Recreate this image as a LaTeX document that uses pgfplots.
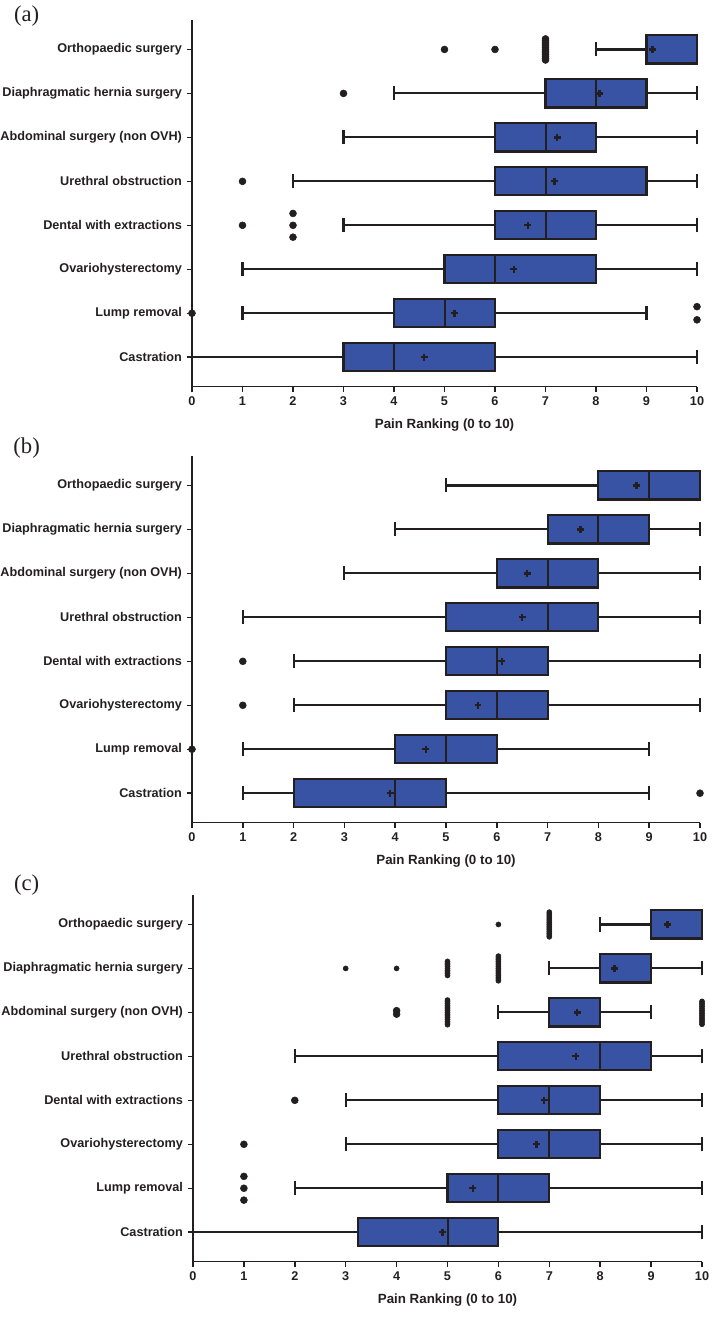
\documentclass[border=0pt]{standalone}
\usepackage{pgfplots}
\pgfplotsset{compat=1.18}
\usepgfplotslibrary{statistics}
\usepackage{fontspec}
\setmainfont{Liberation Sans}
\newfontfamily\panelfont{Liberation Serif}
\definecolor{boxblue}{HTML}{3853A4}
\definecolor{ink}{HTML}{231F20}

\pgfplotsset{
  painbase/.style={
    scale only axis, width=378.75pt, height=275pt,
    xmin=0, xmax=10, ymin=0.33, ymax=8.67,
    axis lines*=left, axis line style={ink, line width=1.1pt},
    xtick={0,...,10}, ytick={1,...,8},
    yticklabels={Castration, Lump removal, Ovariohysterectomy,
      Dental with extractions, Urethral obstruction,
      Abdominal surgery (non OVH), Diaphragmatic hernia surgery,
      Orthopaedic surgery},
    tick align=outside, major tick length=4pt,
    tick style={ink, line width=1.1pt},
    tick label style={font=\bfseries\fontsize{9.5}{11}\selectfont, text=ink},
    /pgf/number format/assume math mode=true,
    xlabel={Pain Ranking (0 to 10)},
    xlabel style={font=\bfseries\fontsize{10}{12}\selectfont, text=ink, yshift=-3pt},
    clip=false,
    boxplot/draw direction=x,
    boxplot/box extend=0.64,
    boxplot/whisker extend=0.32,
    boxplot/every box/.style={fill=boxblue, line width=1.6pt},
    boxplot/every whisker/.style={line width=1.6pt},
    boxplot/every median/.style={line width=1.5pt},
  },
  bx/.style={ink, line width=1.6pt, mark=none, solid},
  mn/.style={only marks, mark=+, mark size=2.6pt, ink, line width=1.7pt},
  big/.style={only marks, mark=*, mark size=2.6pt, ink, fill=ink},
  small/.style={only marks, mark=*, mark size=1.9pt, ink, fill=ink},
}

\begin{document}
\begin{tikzpicture}
\path[use as bounding box] (0,0) rectangle (534pt,-987.75pt);

% ---------------- (a)
\node[font=\panelfont\fontsize{17}{17}\selectfont, text=ink] at (20pt,-12pt) {(a)};
\begin{axis}[painbase, at={(144pt,-15pt)}, anchor=north west]
  \addplot[bx, boxplot prepared={draw position=8, lower whisker=8, lower quartile=9, median=9, upper quartile=10, upper whisker=10}] coordinates {};
  \addplot[bx, boxplot prepared={draw position=7, lower whisker=4, lower quartile=7, median=8, upper quartile=9, upper whisker=10}] coordinates {};
  \addplot[bx, boxplot prepared={draw position=6, lower whisker=3, lower quartile=6, median=7, upper quartile=8, upper whisker=10}] coordinates {};
  \addplot[bx, boxplot prepared={draw position=5, lower whisker=2, lower quartile=6, median=7, upper quartile=9, upper whisker=10}] coordinates {};
  \addplot[bx, boxplot prepared={draw position=4, lower whisker=3, lower quartile=6, median=7, upper quartile=8, upper whisker=10}] coordinates {};
  \addplot[bx, boxplot prepared={draw position=3, lower whisker=1, lower quartile=5, median=6, upper quartile=8, upper whisker=10}] coordinates {};
  \addplot[bx, boxplot prepared={draw position=2, lower whisker=1, lower quartile=4, median=5, upper quartile=6, upper whisker=9}] coordinates {};
  \addplot[bx, boxplot prepared={draw position=1, lower whisker=0, lower quartile=3, median=4, upper quartile=6, upper whisker=10}] coordinates {};
  \addplot[mn] coordinates {(9.12,8) (8.07,7) (7.23,6) (7.18,5) (6.65,4) (6.37,3) (5.2,2) (4.6,1)};
  \addplot[big] coordinates {(5,8) (6,8) (3,7) (1,5) (1,4) (2,3.73) (2,4) (2,4.27) (0,2) (10,1.85) (10,2.15)};
  \addplot[big] coordinates {(7,7.76) (7,7.80) (7,7.84) (7,7.88) (7,7.92) (7,7.96) (7,8) (7,8.04) (7,8.08) (7,8.12) (7,8.16) (7,8.20) (7,8.24)};
\end{axis}

% ---------------- (b)
\node[font=\panelfont\fontsize{17}{17}\selectfont, text=ink] at (20pt,-336pt) {(b)};
\begin{axis}[painbase, at={(144pt,-342pt)}, anchor=north west, width=381pt]
  \addplot[bx, boxplot prepared={draw position=8, lower whisker=5, lower quartile=8, median=9, upper quartile=10, upper whisker=10}] coordinates {};
  \addplot[bx, boxplot prepared={draw position=7, lower whisker=4, lower quartile=7, median=8, upper quartile=9, upper whisker=10}] coordinates {};
  \addplot[bx, boxplot prepared={draw position=6, lower whisker=3, lower quartile=6, median=7, upper quartile=8, upper whisker=10}] coordinates {};
  \addplot[bx, boxplot prepared={draw position=5, lower whisker=1, lower quartile=5, median=7, upper quartile=8, upper whisker=10}] coordinates {};
  \addplot[bx, boxplot prepared={draw position=4, lower whisker=2, lower quartile=5, median=6, upper quartile=7, upper whisker=10}] coordinates {};
  \addplot[bx, boxplot prepared={draw position=3, lower whisker=2, lower quartile=5, median=6, upper quartile=7, upper whisker=10}] coordinates {};
  \addplot[bx, boxplot prepared={draw position=2, lower whisker=1, lower quartile=4, median=5, upper quartile=6, upper whisker=9}] coordinates {};
  \addplot[bx, boxplot prepared={draw position=1, lower whisker=1, lower quartile=2, median=4, upper quartile=5, upper whisker=9}] coordinates {};
  \addplot[mn] coordinates {(8.75,8) (7.65,7) (6.6,6) (6.5,5) (6.1,4) (5.63,3) (4.6,2) (3.9,1)};
  \addplot[big] coordinates {(1,4) (1,3) (0,2) (10,1)};
\end{axis}

% ---------------- (c)
\node[font=\panelfont\fontsize{17}{17}\selectfont, text=ink] at (20pt,-663.75pt) {(c)};
\begin{axis}[painbase, at={(144.75pt,-671.25pt)}, anchor=north west, width=381.75pt]
  \addplot[bx, boxplot prepared={draw position=8, lower whisker=8, lower quartile=9, median=9, upper quartile=10, upper whisker=10}] coordinates {};
  \addplot[bx, boxplot prepared={draw position=7, lower whisker=7, lower quartile=8, median=8, upper quartile=9, upper whisker=10}] coordinates {};
  \addplot[bx, boxplot prepared={draw position=6, lower whisker=6, lower quartile=7, median=7, upper quartile=8, upper whisker=9}] coordinates {};
  \addplot[bx, boxplot prepared={draw position=5, lower whisker=2, lower quartile=6, median=8, upper quartile=9, upper whisker=10}] coordinates {};
  \addplot[bx, boxplot prepared={draw position=4, lower whisker=3, lower quartile=6, median=7, upper quartile=8, upper whisker=10}] coordinates {};
  \addplot[bx, boxplot prepared={draw position=3, lower whisker=3, lower quartile=6, median=7, upper quartile=8, upper whisker=10}] coordinates {};
  \addplot[bx, boxplot prepared={draw position=2, lower whisker=2, lower quartile=5, median=6, upper quartile=7, upper whisker=10}] coordinates {};
  \addplot[bx, boxplot prepared={draw position=1, lower whisker=0, lower quartile=3.25, median=5, upper quartile=6, upper whisker=10}] coordinates {};
  \addplot[mn] coordinates {(9.32,8) (8.28,7) (7.55,6) (7.52,5) (6.9,4) (6.75,3) (5.5,2) (4.9,1)};
  \addplot[big] coordinates {(2,4) (1,3) (1,1.73) (1,2) (1,2.27) (4,5.96) (4,6.04)};
  \addplot[small] coordinates {(6,8) (3,7) (4,7)};
  % stacked outliers
  \addplot[small] coordinates {(7,7.72) (7,7.76) (7,7.80) (7,7.84) (7,7.88) (7,7.92) (7,7.96) (7,8) (7,8.04) (7,8.08) (7,8.12) (7,8.16) (7,8.20) (7,8.24) (7,8.28)};
  \addplot[small] coordinates {(5,6.84) (5,6.88) (5,6.92) (5,6.96) (5,7) (5,7.04) (5,7.08) (5,7.12) (5,7.16)};
  \addplot[small] coordinates {(6,6.72) (6,6.76) (6,6.80) (6,6.84) (6,6.88) (6,6.92) (6,6.96) (6,7) (6,7.04) (6,7.08) (6,7.12) (6,7.16) (6,7.20) (6,7.24) (6,7.28)};
  \addplot[small] coordinates {(5,5.72) (5,5.76) (5,5.80) (5,5.84) (5,5.88) (5,5.92) (5,5.96) (5,6) (5,6.04) (5,6.08) (5,6.12) (5,6.16) (5,6.20) (5,6.24) (5,6.28)};
  \addplot[small] coordinates {(10,5.73) (10,5.77) (10,5.81) (10,5.85) (10,5.89) (10,5.93) (10,5.97) (10,6.01) (10,6.05) (10,6.09) (10,6.13) (10,6.17) (10,6.21) (10,6.25)};
\end{axis}
\end{tikzpicture}
\end{document}
